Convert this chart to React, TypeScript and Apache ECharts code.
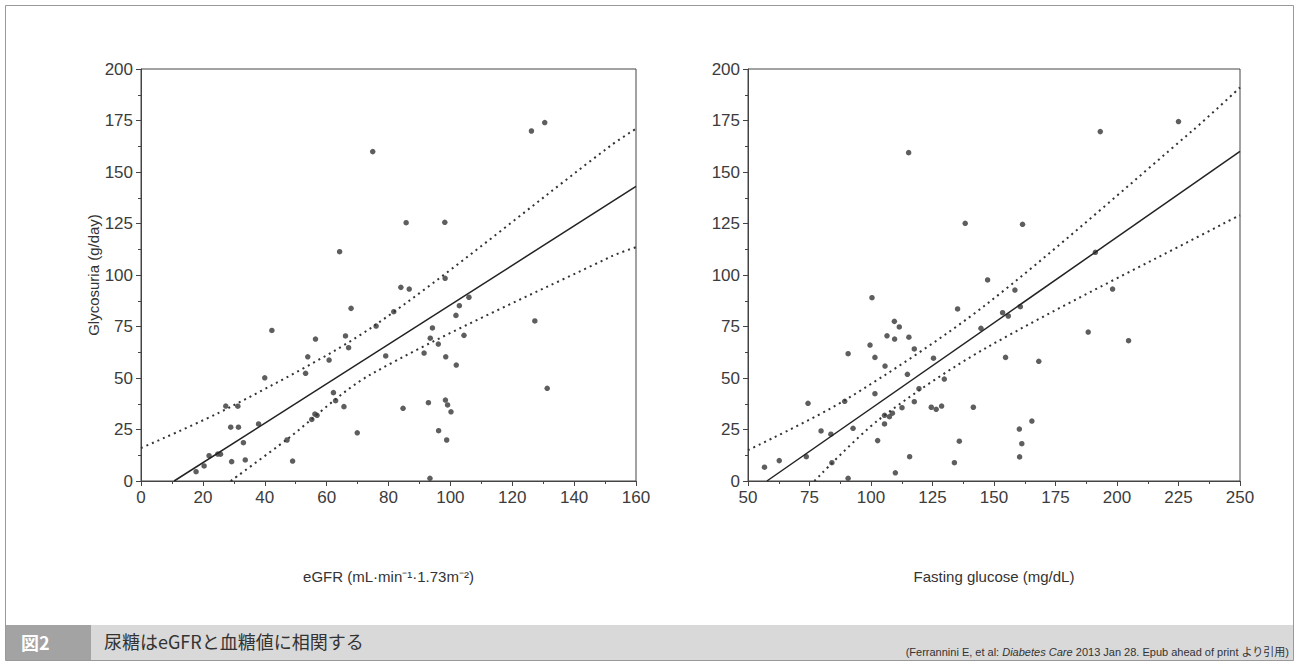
import React, { useEffect, useRef } from "react";
import * as echarts from "echarts";

// ---- data ----
const egfrX = [74.9, 64.2, 67.9, 76.0, 66.1, 42.3, 56.4, 53.9, 60.8, 67.1, 53.2, 40.0, 62.2, 62.9, 65.6, 27.4, 31.3, 29.0, 31.5, 38.0, 33.1, 24.8, 22.0, 25.7, 20.4, 17.8, 29.3, 33.7, 47.2, 49.0, 55.2, 56.2, 56.9, 69.9,
  126.2, 85.7, 98.2, 98.3, 84.0, 86.7, 81.7, 106.0, 102.9, 101.8, 94.2, 93.5, 104.4, 96.1, 91.5, 98.5, 101.9, 79.1, 127.3, 131.3, 84.7, 92.9, 98.4, 99.1, 100.2, 96.2, 98.8, 93.4, 130.5];
const egfrY = [159.9, 111.3, 83.8, 75.2, 70.4, 73.1, 68.9, 60.3, 58.7, 64.7, 52.3, 50.1, 42.9, 39.0, 36.1, 36.4, 36.3, 26.1, 26.1, 27.7, 18.6, 13.1, 12.3, 13.0, 7.3, 4.5, 9.4, 10.2, 19.9, 9.7, 29.9, 32.5, 31.9, 23.4,
  169.9, 125.4, 125.6, 98.4, 94.0, 93.2, 82.2, 89.2, 85.1, 80.4, 74.3, 69.3, 70.7, 66.5, 62.1, 60.3, 56.3, 60.7, 77.7, 45.0, 35.3, 38.0, 39.3, 36.9, 33.6, 24.4, 19.9, 1.3, 174.0];

const glucoseX = [115.3, 138.3, 100.4, 135.2, 144.7, 109.5, 111.5, 106.5, 109.6, 115.4, 117.6, 99.6, 101.6, 90.7, 125.4, 105.7, 114.8, 129.8, 119.5, 101.6, 74.4, 89.3, 112.6, 124.5, 126.5, 128.7, 141.6, 117.6, 105.5, 107.5, 108.7, 105.5, 92.7, 79.7, 83.7, 102.7, 135.9, 73.7, 62.7, 56.7, 115.7, 84.1, 133.9, 109.9, 90.7,
  193.2, 161.6, 147.4, 158.5, 160.7, 153.5, 155.8, 191.2, 198.2, 188.3, 204.7, 154.7, 168.2, 165.4, 160.3, 161.3, 160.4, 225.0];
const glucoseY = [159.4, 125.1, 89.0, 83.5, 74.1, 77.5, 74.8, 70.5, 68.9, 69.8, 64.1, 66.0, 60.0, 61.8, 59.6, 55.8, 51.8, 49.5, 44.8, 42.4, 37.7, 38.7, 35.6, 35.8, 34.8, 36.4, 35.8, 38.5, 31.9, 31.2, 32.9, 27.7, 25.6, 24.3, 22.7, 19.6, 19.3, 11.8, 9.9, 6.7, 11.8, 8.9, 8.9, 4.0, 1.3,
  169.6, 124.6, 97.6, 92.7, 84.6, 81.7, 80.1, 111.0, 93.2, 72.3, 68.1, 60.0, 58.1, 29.1, 25.2, 18.1, 11.7, 174.5];

// regression and confidence bands
const egfrFitX = [10.7, 160];
const egfrFitY = [0, 143];
const egfrUpperX = [0, 29, 75, 152, 160];
const egfrUpperY = [16, 36, 75, 163, 171];
const egfrLowerX = [29, 47, 74, 152, 160];
const egfrLowerY = [0, 20, 51.5, 109, 113.5];

const gluFitX = [57.7, 250];
const gluFitY = [0, 160];
const gluUpperX = [50, 89.5, 146.5, 231, 250];
const gluUpperY = [15, 39.3, 85.4, 170.4, 191];
const gluLowerX = [77, 103, 146.5, 244, 250];
const gluLowerY = [0, 29.6, 64.4, 125.4, 129];

const yTicks = { min: 0, max: 200, interval: 25 };
const egfrTicks = { min: 0, max: 160, interval: 20 };
const gluTicks = { min: 50, max: 250, interval: 25 };

const captionTitle = "尿糖はeGFRと血糖値に相関する";
const figLabel = "図2";

const zip = (xs: number[], ys: number[]) => xs.map((x, i) => [x, ys[i]]);

const FONT = "'Liberation Sans', Arial, sans-serif";
const AX = "#444";
const TXT = "#333";

function axisCommon() {
  return {
    axisLine: { show: true, lineStyle: { color: AX, width: 1 } },
    axisTick: { show: true, length: 5, lineStyle: { color: AX } },
    minorTick: { show: true, splitNumber: 2, length: 3, lineStyle: { color: AX } },
    splitLine: { show: false },
    axisLabel: { color: "#3c3c3c", fontSize: 17, fontFamily: FONT, margin: 8 },
  };
}

export default function App() {
  const ref = useRef<HTMLDivElement>(null);
  useEffect(() => {
    if (!ref.current) return;
    const chart = echarts.init(ref.current, undefined, { renderer: "svg" });
    const scatterStyle = { color: "#4d4d4d", opacity: 0.9 };
    const solid = { color: "#222", width: 1.5, type: "solid" as const };
    const dotted = { color: "#333", width: 2, type: [2, 4] as any };
    const lineSeries = (idx: number, data: number[][], ls: any) => ({
      type: "line",
      xAxisIndex: idx,
      yAxisIndex: idx,
      data,
      showSymbol: false,
      symbol: "none",
      smooth: 0.3,
      lineStyle: ls,
      clip: true,
      silent: true,
    });
    chart.setOption({
      animation: false,
      backgroundColor: "#fff",
      grid: [
        { left: 141, top: 69, width: 495, height: 412, show: true, borderColor: AX, borderWidth: 1, backgroundColor: "transparent" },
        { left: 748, top: 69, width: 492, height: 412, show: true, borderColor: AX, borderWidth: 1, backgroundColor: "transparent" },
      ],
      xAxis: [
        {
          type: "value", gridIndex: 0, ...egfrTicks, ...axisCommon(),
          name: "eGFR (mL·min⁻¹·1.73m⁻²)", nameLocation: "middle", nameGap: 88,
          nameTextStyle: { color: TXT, fontSize: 15, fontFamily: FONT },
        },
        {
          type: "value", gridIndex: 1, ...gluTicks, ...axisCommon(),
          name: "Fasting glucose (mg/dL)", nameLocation: "middle", nameGap: 88,
          nameTextStyle: { color: TXT, fontSize: 15, fontFamily: FONT },
        },
      ],
      yAxis: [
        {
          type: "value", gridIndex: 0, ...yTicks, ...axisCommon(),
          name: "Glycosuria (g/day)", nameLocation: "middle", nameGap: 34, nameRotate: 90,
          nameTextStyle: { color: TXT, fontSize: 15, fontFamily: FONT },
        },
        { type: "value", gridIndex: 1, ...yTicks, ...axisCommon() },
      ],
      series: [
        { type: "scatter", xAxisIndex: 0, yAxisIndex: 0, data: zip(egfrX, egfrY), symbolSize: 5.5, itemStyle: scatterStyle },
        lineSeries(0, zip(egfrFitX, egfrFitY), solid),
        lineSeries(0, zip(egfrUpperX, egfrUpperY), dotted),
        lineSeries(0, zip(egfrLowerX, egfrLowerY), dotted),
        { type: "scatter", xAxisIndex: 1, yAxisIndex: 1, data: zip(glucoseX, glucoseY), symbolSize: 5.5, itemStyle: scatterStyle },
        lineSeries(1, zip(gluFitX, gluFitY), solid),
        lineSeries(1, zip(gluUpperX, gluUpperY), dotted),
        lineSeries(1, zip(gluLowerX, gluLowerY), dotted),
      ],
      graphic: [
        { type: "rect", silent: true, z: -10, shape: { x: 5.5, y: 5.5, width: 1288, height: 655 }, style: { fill: "none", stroke: "#999", lineWidth: 1 } },
        { type: "rect", silent: true, z: -9, shape: { x: 6, y: 625, width: 1287, height: 35 }, style: { fill: "#d9d9d9" } },
        { type: "rect", silent: true, z: -8, shape: { x: 6, y: 625, width: 85, height: 35 }, style: { fill: "#a3a3a3" } },
        { type: "text", silent: true, x: 21, y: 642, style: { text: figLabel, fill: "#fff", font: "bold 18px 'Noto Sans CJK JP', sans-serif", verticalAlign: "middle" } },
        { type: "text", silent: true, x: 104, y: 641, style: { text: captionTitle, fill: "#333", font: "18px 'Noto Sans CJK JP', sans-serif", verticalAlign: "middle" } },
        {
          type: "text", silent: true, x: 1289, y: 652,
          style: {
            text: "(Ferrannini E, et al: {i|Diabetes Care} 2013 Jan 28. Epub ahead of print より引用)",
            fill: "#333", font: "11px 'Liberation Sans', 'Noto Sans CJK JP', sans-serif", align: "right", verticalAlign: "middle",
            rich: { i: { fontStyle: "italic", fontSize: 11, fill: "#333", fontFamily: "'Liberation Sans', sans-serif" } },
          },
        },
      ],
    });
    return () => chart.dispose();
  }, []);
  return <div ref={ref} style={{ position: "fixed", left: 0, top: 0, width: 1300, height: 666 }} />;
}
